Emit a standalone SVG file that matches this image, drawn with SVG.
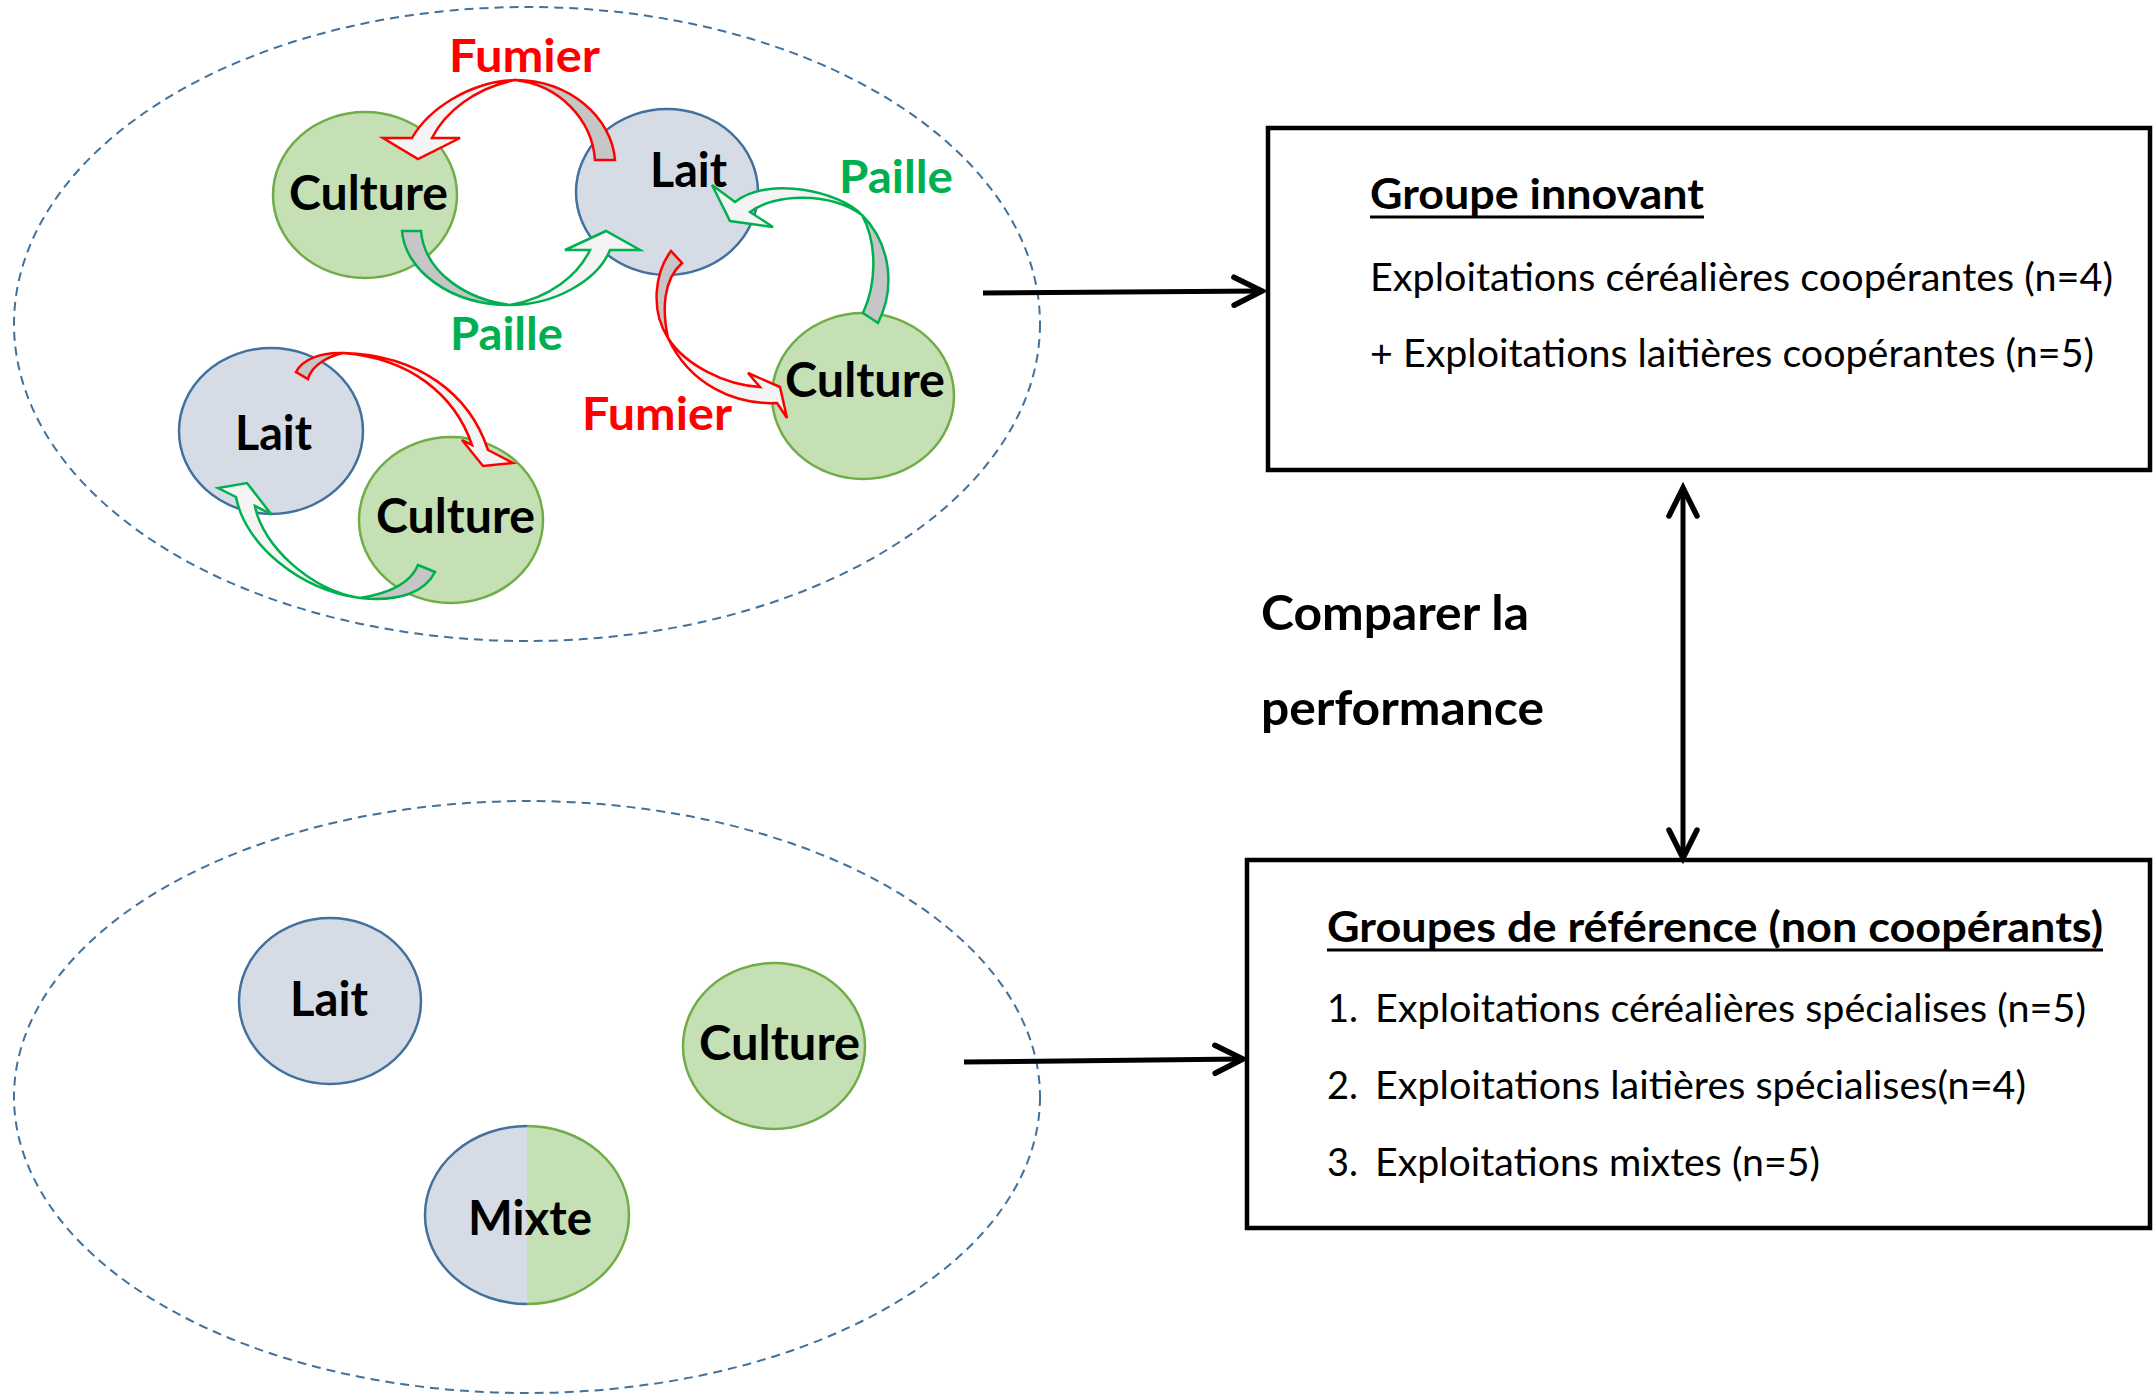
<svg xmlns="http://www.w3.org/2000/svg" width="2154" height="1395" viewBox="0 0 2154 1395">
<defs>
<style>
.region{fill:none;stroke:#41719C;stroke-width:2;stroke-dasharray:9 6}
.lait{fill:#D6DCE5;stroke:#41719C;stroke-width:2.5}
.cult{fill:#C5E0B4;stroke:#70AD47;stroke-width:2.5}
.nl{font-family:Lato,"Open Sans","Liberation Sans",sans-serif;font-weight:700;font-size:47px;fill:#000}
.lab{font-family:Lato,"Open Sans","Liberation Sans",sans-serif;font-weight:700;font-size:46px}
.fu{fill:#FF0000}
.pa{fill:#00B050}
.red{stroke:#FF0000;stroke-width:2.5;stroke-linejoin:miter}
.grn{stroke:#00B050;stroke-width:2.5;stroke-linejoin:miter}
.back{fill:#C6C6C6}
.front{fill:#F4F4F4}
.box{fill:#FFFFFF;stroke:#000;stroke-width:4.5}
.bt{font-family:Lato,"Open Sans","Liberation Sans",sans-serif;font-size:38px;fill:#000}
.bh{font-weight:700;font-size:42px}
.ul{stroke:#000;stroke-width:3}
.conn{stroke:#000;stroke-width:5;fill:none}
</style>
<marker id="ah" markerUnits="userSpaceOnUse" viewBox="-36 -20 44 40" markerWidth="44" markerHeight="40" refX="0" refY="0" orient="auto-start-reverse">
<path d="M-28,-14 L0,0 L-28,14" fill="none" stroke="#000" stroke-width="5.5" stroke-linecap="round" stroke-linejoin="miter"/>
</marker>
</defs>
<rect width="2154" height="1395" fill="#FFFFFF"/>

<g id="region-innovant">
<ellipse class="region" cx="527" cy="324" rx="513" ry="317"/>
</g>
<g id="region-reference">
<ellipse class="region" cx="527" cy="1097" rx="513" ry="296"/>
</g>

<g id="node-culture-1">
<ellipse class="cult" cx="365" cy="195" rx="92" ry="83"/>
<text class="nl" x="289" y="210" textLength="159" lengthAdjust="spacingAndGlyphs">Culture</text>
</g>
<g id="node-lait-1">
<ellipse class="lait" cx="667" cy="192" rx="91" ry="83"/>
<text class="nl" x="650" y="187" textLength="77" lengthAdjust="spacingAndGlyphs">Lait</text>
</g>
<g id="node-culture-2">
<ellipse class="cult" cx="863" cy="396" rx="91" ry="83"/>
<text class="nl" x="785" y="397" textLength="160" lengthAdjust="spacingAndGlyphs">Culture</text>
</g>
<g id="node-lait-2">
<ellipse class="lait" cx="271" cy="431" rx="92" ry="83"/>
<text class="nl" x="235" y="450" textLength="77" lengthAdjust="spacingAndGlyphs">Lait</text>
</g>
<g id="node-culture-3">
<ellipse class="cult" cx="451" cy="520" rx="92" ry="83"/>
<text class="nl" x="376" y="533" textLength="159" lengthAdjust="spacingAndGlyphs">Culture</text>
</g>

<g id="node-lait-ref">
<ellipse class="lait" cx="330" cy="1001" rx="91" ry="83"/>
<text class="nl" x="290" y="1016" textLength="78" lengthAdjust="spacingAndGlyphs">Lait</text>
</g>
<g id="node-culture-ref">
<ellipse class="cult" cx="774" cy="1046" rx="91" ry="83"/>
<text class="nl" x="699" y="1060" textLength="161" lengthAdjust="spacingAndGlyphs">Culture</text>
</g>
<g id="node-mixte">
<path d="M527,1126 A102,89 0 0 0 527,1304 Z" fill="#D6DCE5"/>
<path d="M527,1126 A102,89 0 0 1 527,1304 Z" fill="#C5E0B4"/>
<path d="M527,1126 A102,89 0 0 0 527,1304" fill="none" stroke="#41719C" stroke-width="2.5"/>
<path d="M527,1126 A102,89 0 0 1 527,1304" fill="none" stroke="#70AD47" stroke-width="2.5"/>
<text class="nl" x="468" y="1235" textLength="124" lengthAdjust="spacingAndGlyphs">Mixte</text>
</g>

<g id="box-innovant">
<rect class="box" x="1268" y="128" width="882" height="342"/>
<text class="bt bh" x="1370" y="209" textLength="334" lengthAdjust="spacingAndGlyphs">Groupe innovant</text>
<line class="ul" x1="1370" y1="217" x2="1704" y2="217"/>
<text class="bt" x="1370" y="291" textLength="743" lengthAdjust="spacingAndGlyphs">Exploitations céréalières coopérantes (n=4)</text>
<text class="bt" x="1370" y="367" textLength="724" lengthAdjust="spacingAndGlyphs">+ Exploitations laitières coopérantes (n=5)</text>
</g>

<g id="box-reference">
<rect class="box" x="1247" y="860" width="903" height="368"/>
<text class="bt bh" x="1327" y="942" textLength="776" lengthAdjust="spacingAndGlyphs">Groupes de référence (non coopérants)</text>
<line class="ul" x1="1327" y1="950" x2="2103" y2="950"/>
<text class="bt" x="1327" y="1022">1.</text>
<text class="bt" x="1375" y="1022" textLength="711" lengthAdjust="spacingAndGlyphs">Exploitations céréalières spécialises (n=5)</text>
<text class="bt" x="1327" y="1099">2.</text>
<text class="bt" x="1375" y="1099" textLength="651" lengthAdjust="spacingAndGlyphs">Exploitations laitières spécialises(n=4)</text>
<text class="bt" x="1327" y="1176">3.</text>
<text class="bt" x="1375" y="1176" textLength="445" lengthAdjust="spacingAndGlyphs">Exploitations mixtes (n=5)</text>
</g>

<g id="label-comparer">
<text class="nl" x="1261" y="630" textLength="268" lengthAdjust="spacingAndGlyphs">Comparer la</text>
<text class="nl" x="1261" y="725" textLength="283" lengthAdjust="spacingAndGlyphs">performance</text>
</g>

<g id="connectors">
<line class="conn" x1="983" y1="293" x2="1262" y2="291" marker-end="url(#ah)"/>
<line class="conn" x1="964" y1="1062" x2="1243" y2="1059" marker-end="url(#ah)"/>
<line class="conn" x1="1683" y1="488" x2="1683" y2="858" marker-start="url(#ah)" marker-end="url(#ah)"/>

<g id="flow-fumier-1">
<path class="back red" d="M615,160 C612,118 570,80 515,80 C560,85 592,120 595,160 Z"/>
<path class="front red" d="M515,80 C468,82 428,110 412,138 L383,138 L418,159 L460,138 L432,138 C445,112 475,88 515,80 Z"/>
<text class="lab fu" x="449" y="72" textLength="151" lengthAdjust="spacingAndGlyphs">Fumier</text>
</g>
<g id="flow-paille-1">
<path class="back grn" d="M402,231 C405,270 450,305 510,305 C470,300 425,275 421,231 Z"/>
<path class="front grn" d="M510,305 C555,305 598,280 610,250 L640,250 L606,231 L565,250 L590,250 C578,275 550,298 510,305 Z"/>
<text class="lab pa" x="450" y="350" textLength="113" lengthAdjust="spacingAndGlyphs">Paille</text>
</g>
<g id="flow-paille-2">
<path class="back grn" d="M878,323 C895,290 892,245 862,215 C878,245 876,285 863,313 Z"/>
<path class="front grn" d="M862,215 C840,192 770,175 735,202 L712,185 L730,221 L773,227 L750,212 C775,193 830,192 862,215 Z"/>
<text class="lab pa" x="839" y="193" textLength="114" lengthAdjust="spacingAndGlyphs">Paille</text>
</g>
<g id="flow-fumier-2">
<path class="back red" d="M671,251 C655,272 650,310 668,338 C662,310 663,280 682,263 Z"/>
<path class="front red" d="M668,338 C690,385 735,405 777,403 L787,418 L780,387 L748,373 L760,387 C725,385 685,365 668,338 Z"/>
<text class="lab fu" x="582" y="430" textLength="150" lengthAdjust="spacingAndGlyphs">Fumier</text>
</g>
<g id="flow-fumier-3">
<path class="back red" d="M296,372 C302,360 320,352 343,353 C330,356 312,364 308,379 Z"/>
<path class="front red" d="M343,353 C420,355 470,395 488,450 L513,463 L483,466 L462,440 L472,445 C455,395 410,358 343,353 Z"/>
</g>
<g id="flow-paille-3">
<path class="back grn" d="M435,572 C425,592 400,602 360,598 C385,594 410,585 418,565 Z"/>
<path class="front grn" d="M360,598 C300,590 245,545 236,497 L218,488 L247,483 L271,514 L255,506 C262,545 310,590 360,598 Z"/>
</g>
</g>
</svg>
